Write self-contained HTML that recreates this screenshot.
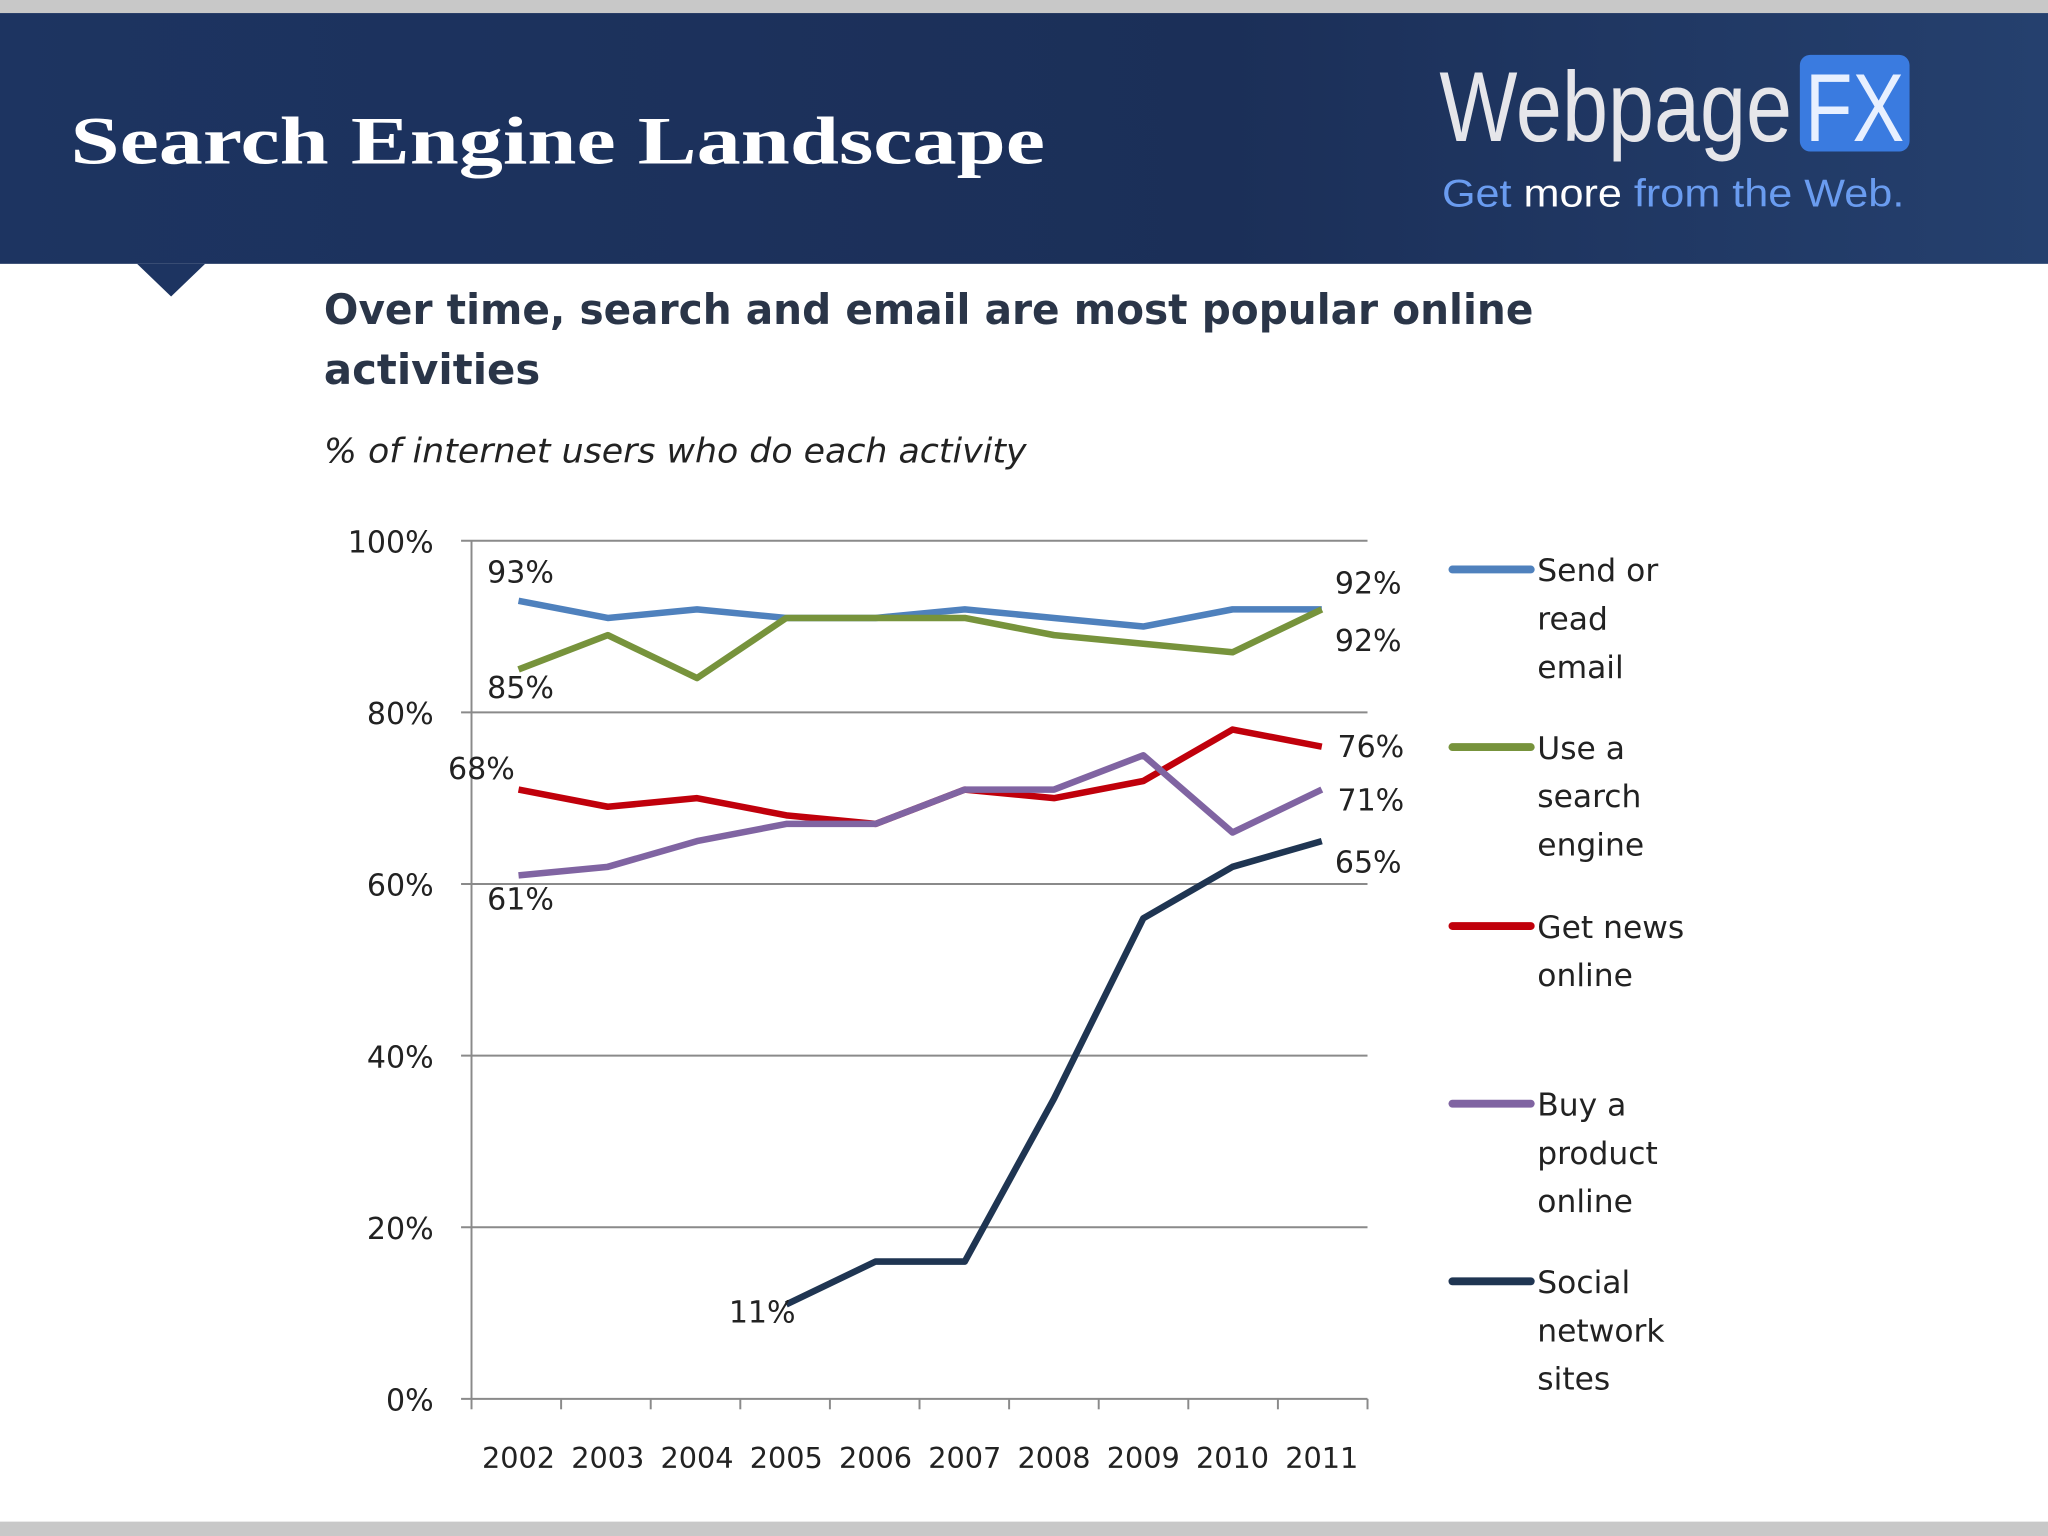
<!DOCTYPE html>
<html><head><meta charset="utf-8"><style>
html,body{margin:0;padding:0;background:#fff;}
svg{display:block;}
</style></head><body>
<svg id="chart" width="2048" height="1536" viewBox="0 0 1568 1176" xmlns="http://www.w3.org/2000/svg">
<defs>
<linearGradient id="hdr" x1="0" y1="0" x2="1" y2="0">
<stop offset="0" stop-color="#1d3461"/><stop offset="0.6" stop-color="#1b2f58"/><stop offset="1" stop-color="#25406e"/>
</linearGradient>
</defs>
<rect x="0" y="0" width="1568" height="1176" fill="#fff"/>
<rect x="0" y="0" width="1568" height="10" fill="#c8c8c8"/>
<rect x="0" y="10" width="1568" height="192" fill="url(#hdr)"/>
<polygon points="105,202 157,202 131,227" fill="#1d3461"/>
<text x="54" y="125" font-family="Liberation Serif, serif" font-weight="bold" font-size="52" fill="#fff" textLength="746" lengthAdjust="spacingAndGlyphs">Search Engine Landscape</text>
<text x="1102" y="108" font-family="Liberation Sans, sans-serif" font-size="76" fill="#e6e6ea" textLength="270" lengthAdjust="spacingAndGlyphs">Webpage</text>
<rect x="1378" y="42" width="84" height="74" rx="8" fill="#3a7be0"/>
<text x="1382" y="108" font-family="Liberation Sans, sans-serif" font-size="74" fill="#e8f0ff" textLength="76" lengthAdjust="spacingAndGlyphs">FX</text>
<text x="1104" y="158" font-family="Liberation Sans, sans-serif" font-size="30" fill="#6a9cf0" textLength="354" lengthAdjust="spacingAndGlyphs">Get <tspan fill="#fff">more</tspan> from the Web.</text>
<text font-family="DejaVu Sans, sans-serif" font-weight="bold" font-size="32" fill="#2a3548"><tspan x="248" y="248" textLength="926" lengthAdjust="spacingAndGlyphs">Over time, search and email are most popular online</tspan><tspan x="248" y="294">activities</tspan></text>
<text x="248" y="354" font-family="DejaVu Sans, sans-serif" font-style="italic" font-size="26" fill="#222" textLength="538" lengthAdjust="spacingAndGlyphs">% of internet users who do each activity</text>
<g id="plot"></g>
<rect x="0" y="1165" width="1568" height="11" fill="#c8c8c8"/>
</svg>
<script>
const years = ['2002','2003','2004','2005','2006','2007','2008','2009','2010','2011'];
const yTicks = [0,20,40,60,80,100];
const email = [93,91,92,91,91,92,91,90,92,92];
const search = [85,89,84,91,91,91,89,88,87,92];
const news = [71,69,70,68,67,71,70,72,78,76];
const buy = [61,62,65,67,67,71,71,75,66,71];
const social = [null,null,null,11,16,16,35,56,62,65];
const seriesNames = ['Send or read email','Use a search engine','Get news online','Buy a product online','Social network sites'];
const legendLines = [['Send or','read','email'],['Use a','search','engine'],['Get news','online'],['Buy a','product','online'],['Social','network','sites']];
const colors = ['#4f81bd','#77933c','#c0000b','#8064a2','#1f3552'];
const labels = [
 {t:'93%',s:0,i:0,dx:-24,dy:-14},{t:'92%',s:0,i:9,dx:10,dy:-12},
 {t:'85%',s:1,i:0,dx:-24,dy:22},{t:'92%',s:1,i:9,dx:10,dy:32},
 {t:'68%',s:2,i:0,dx:-54,dy:-8},{t:'76%',s:2,i:9,dx:12,dy:8},
 {t:'61%',s:3,i:0,dx:-24,dy:26},{t:'71%',s:3,i:9,dx:12,dy:16},
 {t:'11%',s:4,i:3,dx:-44,dy:14},{t:'65%',s:4,i:9,dx:10,dy:24}
];
const data = [email,search,news,buy,social];
const NS='http://www.w3.org/2000/svg';
const g=document.getElementById('plot');
const X0=361,X1=1047,Y0=1071,Y1=414;
const xs=i=>397+i*(1012-397)/(years.length-1);
const ys=v=>Y0-(v/100)*(Y0-Y1);
function mk(tag,attrs,parent){const e=document.createElementNS(NS,tag);for(const k in attrs)e.setAttribute(k,attrs[k]);(parent||g).appendChild(e);return e;}
yTicks.forEach(v=>{
 const l=mk('line',{x1:X0-8,x2:X1,y1:ys(v),y2:ys(v),stroke:'#8a8a8a','stroke-width':1.5});
 
 
 const t=mk('text',{x:332,y:ys(v)+9,'text-anchor':'end','font-family':'DejaVu Sans, sans-serif','font-size':23,fill:'#222'});
 t.textContent=v+'%';
 
 
});
const ax=mk('line',{x1:X0,x2:X0,y1:Y1,y2:Y0,stroke:'#8a8a8a','stroke-width':1.5});


for(let i=0;i<=years.length;i++){
 const x=X0+i*(X1-X0)/years.length;
 const tk=mk('line',{x1:x,x2:x,y1:Y0,y2:Y0+8,stroke:'#8a8a8a','stroke-width':1.5});
 
 
}
years.forEach((y,i)=>{
 const t=mk('text',{x:xs(i),y:1124,'text-anchor':'middle','font-family':'DejaVu Sans, sans-serif','font-size':22,fill:'#222'});
 t.textContent=y;
 
 
});
data.forEach((arr,s)=>{
 const pts=[];arr.forEach((v,i)=>{if(v!==null)pts.push(xs(i)+','+ys(v));});
 const p=mk('polyline',{points:pts.join(' '),fill:'none',stroke:colors[s],'stroke-width':5,'stroke-linejoin':'round'});
 
 
});
labels.forEach(L=>{
 const t=mk('text',{x:xs(L.i)+L.dx,y:ys(data[L.s][L.i])+L.dy,'font-family':'DejaVu Sans, sans-serif','font-size':23,fill:'#222'});
 t.textContent=L.t;
 
 
});
const legY=[436,572,709,845,981];
legendLines.forEach((lines,s)=>{
 const l=mk('line',{x1:1112,x2:1172,y1:legY[s],y2:legY[s],stroke:colors[s],'stroke-width':6,'stroke-linecap':'round'});
 
 
 const t=mk('text',{x:1177,y:legY[s]+9,'font-family':'DejaVu Sans, sans-serif','font-size':24,fill:'#222'});
 
 
 lines.forEach((ln,k)=>{const ts=mk('tspan',{x:1177,dy:k?37:0},t);ts.textContent=ln;});
});
</script>
</body></html>
